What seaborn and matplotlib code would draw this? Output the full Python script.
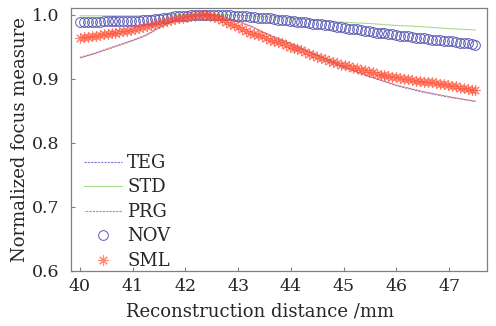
import numpy as np
import matplotlib
matplotlib.use("Agg")
import matplotlib.pyplot as plt
import seaborn as sns

# reconstruction distance (mm)
x_fine = np.round(np.linspace(40.0, 47.5, 101), 3)
x_line = np.round(np.arange(40.0, 47.51, 0.25), 2)
x_std = np.round(np.arange(40.0, 47.51, 0.5), 1)

nov = [0.989, 0.989, 0.989, 0.989, 0.989, 0.989, 0.990, 0.990, 0.990, 0.990,
       0.990, 0.990, 0.990, 0.990, 0.990, 0.990, 0.991, 0.991, 0.992, 0.993,
       0.993, 0.994, 0.995, 0.996, 0.997, 0.997, 0.998, 0.998, 0.999, 0.999,
       1.000, 1.000, 1.000, 1.000, 1.000, 1.000, 0.999, 0.999, 0.999, 0.998,
       0.998, 0.997, 0.997, 0.996, 0.996, 0.995, 0.995, 0.994, 0.994, 0.993,
       0.992, 0.992, 0.991, 0.990, 0.990, 0.989, 0.988, 0.988, 0.987, 0.986,
       0.985, 0.985, 0.984, 0.983, 0.982, 0.981, 0.980, 0.979, 0.978, 0.977,
       0.977, 0.976, 0.975, 0.974, 0.973, 0.972, 0.972, 0.971, 0.970, 0.969,
       0.968, 0.967, 0.967, 0.966, 0.965, 0.964, 0.964, 0.963, 0.962, 0.961,
       0.961, 0.960, 0.959, 0.958, 0.958, 0.957, 0.956, 0.955, 0.955, 0.954,
       0.953]

sml = [0.964, 0.965, 0.965, 0.966, 0.967, 0.968, 0.969, 0.970, 0.971, 0.972,
       0.973, 0.974, 0.975, 0.976, 0.977, 0.979, 0.980, 0.982, 0.984, 0.985,
       0.987, 0.988, 0.990, 0.991, 0.993, 0.994, 0.995, 0.996, 0.997, 0.998,
       0.999, 0.999, 0.999, 0.998, 0.996, 0.994, 0.991, 0.988, 0.986, 0.983,
       0.980, 0.977, 0.974, 0.972, 0.970, 0.968, 0.966, 0.963, 0.961, 0.959,
       0.957, 0.955, 0.953, 0.950, 0.948, 0.946, 0.944, 0.941, 0.939, 0.937,
       0.934, 0.932, 0.930, 0.928, 0.926, 0.924, 0.922, 0.921, 0.919, 0.917,
       0.916, 0.914, 0.913, 0.911, 0.910, 0.908, 0.906, 0.905, 0.904, 0.903,
       0.902, 0.901, 0.900, 0.899, 0.898, 0.897, 0.896, 0.895, 0.894, 0.894,
       0.893, 0.892, 0.891, 0.890, 0.889, 0.888, 0.886, 0.885, 0.884, 0.883,
       0.882]

teg = [0.933, 0.939, 0.946, 0.953, 0.960, 0.968, 0.980, 0.990, 0.996, 0.999,
       0.999, 0.995, 0.989, 0.981, 0.971, 0.962, 0.954, 0.945, 0.936, 0.927,
       0.918, 0.910, 0.903, 0.896, 0.889, 0.884, 0.879, 0.875, 0.871, 0.868,
       0.865]

prg = [0.932, 0.938, 0.945, 0.952, 0.959, 0.967, 0.979, 0.989, 0.996, 0.999,
       1.000, 0.996, 0.990, 0.982, 0.972, 0.963, 0.955, 0.946, 0.937, 0.928,
       0.919, 0.911, 0.903, 0.897, 0.890, 0.885, 0.880, 0.876, 0.872, 0.868,
       0.864]

std = [0.998, 0.998, 0.998, 0.999, 1.000, 1.000, 0.999, 0.997, 0.994, 0.991,
       0.988, 0.986, 0.983, 0.981, 0.978, 0.976]

sns.set_style("ticks")
plt.rcParams["font.family"] = ["DejaVu Serif"]

fig = plt.figure(figsize=(4.96, 3.26), dpi=100)
ax = fig.add_axes([0.143, 0.169, 0.839, 0.806])

sns.lineplot(x=x_line, y=teg, ax=ax, color="#7a7ad8", lw=0.8, ls=(0, (2, 1)), label="TEG")
sns.lineplot(x=x_std, y=std, ax=ax, color="#a8dc8c", lw=0.8, label="STD")
sns.lineplot(x=x_line, y=prg, ax=ax, color="#f07060", lw=0.8, ls=(1.5, (2, 1)), label="PRG")
sns.lineplot(x=x_fine, y=nov, ax=ax, ls="none", marker="o", ms=7, mfc="none",
             mec="#5a5ab8", mew=0.7, label="NOV")
sns.lineplot(x=x_fine, y=sml, ax=ax, ls="none", marker=(8, 2, 0), ms=7.5,
             mec="#ff4a30", mfc="#ff4a30", mew=0.8, alpha=0.65, label="SML")

ax.set_xlim(39.83, 47.72)
ax.set_ylim(0.6, 1.01)
ax.set_xticks([40, 41, 42, 43, 44, 45, 46, 47])
ax.set_yticks([0.6, 0.7, 0.8, 0.9, 1.0])
ax.set_yticklabels(["0.6", "0.7", "0.8", "0.9", "1.0"])
ax.tick_params(direction="in", length=3, color="#808080", labelsize=12.5, width=0.8)
ax.tick_params(axis="y", pad=8)
ax.tick_params(axis="x", pad=5)
for s in ax.spines.values():
    s.set_visible(True)
    s.set_color("#808080")
    s.set_linewidth(0.9)

ax.set_xlabel("Reconstruction distance /mm", fontsize=13, labelpad=4)
ax.xaxis.set_label_coords(0.454, -0.12)
ax.set_ylabel("Normalized focus measure", fontsize=13, labelpad=2)

ax.legend(loc="lower left", bbox_to_anchor=(0.022, -0.01), frameon=False, fontsize=13,
          handlelength=2.1, handletextpad=0.3, labelspacing=0.36, numpoints=1,
          borderaxespad=0.0, borderpad=0.2)

fig.savefig("out.png", dpi=100)
